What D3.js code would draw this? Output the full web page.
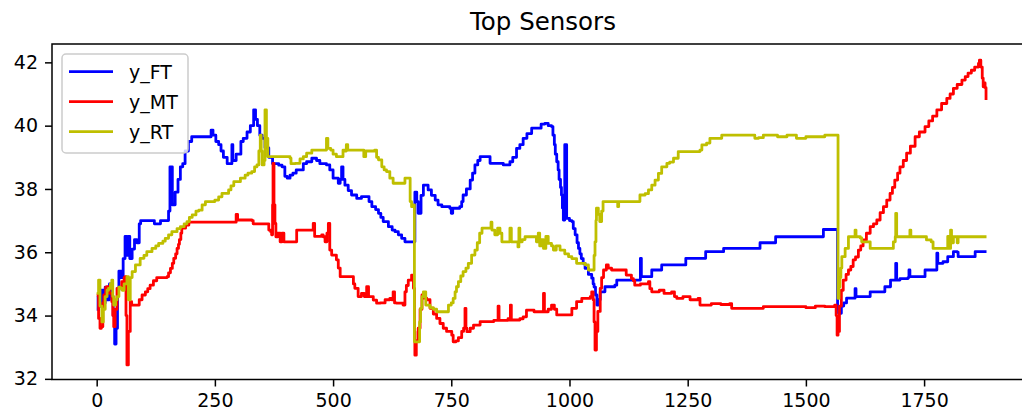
<!DOCTYPE html>
<html>
<head>
<meta charset="utf-8">
<script src="https://cdn.jsdelivr.net/npm/d3@7"></script>
<style>
  body { margin: 0; background: #fff; }
  text { font-family: "DejaVu Sans", sans-serif; fill: #000; }
</style>
</head>
<body>
<div id="chart"></div>
<script>
// sensor readings, [index, value]
var yFT = [[0,34.2],[3,34.6],[6,34.3],[10,34.8],[14,34.4],[18,34.9],[22,34.5],[27,35.0],[31,34.6],[35,34.0],[38,33.1],[41,33.6],[44,34.8],[47,35.4],[52,35.2],[56,35.8],[60,36.5],[63,35.9],[66,36.5],[70,35.8],[75,36.1],[80,36.4],[85,36.3],[90,36.9],[93,37.0],[120,37.0],[122,36.9],[135,37.0],[149,37.0],[152,37.3],[155,38.7],[158,38.7],[160,37.5],[166,37.9],[172,38.3],[177,38.7],[182,38.8],[187,39.2],[194,39.5],[201,39.65],[240,39.65],[242,39.86],[246,39.7],[252,39.5],[258,39.4],[263,39.2],[268,39.0],[276,38.8],[283,38.8],[286,39.4],[288,38.9],[295,39.1],[300,39.1],[305,39.5],[310,39.6],[318,39.8],[325,40.0],[332,40.5],[336,40.2],[340,40.0],[345,39.7],[350,39.6],[356,39.3],[364,39.0],[372,38.8],[385,38.75],[392,38.7],[398,38.4],[403,38.34],[409,38.44],[415,38.5],[422,38.6],[430,38.6],[437,38.8],[444,38.86],[455,38.97],[465,38.9],[472,38.8],[486,38.76],[493,38.6],[500,38.34],[511,38.18],[515,38.3],[518,38.7],[521,38.3],[525,38.12],[532,37.95],[539,37.81],[550,37.7],[560,37.76],[571,37.76],[576,37.6],[582,37.44],[590,37.35],[596,37.23],[601,37.1],[606,36.97],[617,36.81],[625,36.7],[631,36.65],[638,36.55],[645,36.44],[652,36.33],[668,36.33],[673,37.9],[677,37.6],[680,37.23],[686,37.8],[691,38.12],[701,37.97],[708,37.8],[716,37.65],[722,37.5],[730,37.44],[747,37.39],[750,37.23],[753,37.39],[768,37.44],[772,37.6],[775,37.81],[782,38.0],[790,38.28],[795,38.5],[800,38.76],[806,38.9],[811,39.02],[825,39.02],[832,38.81],[845,38.81],[860,38.76],[874,38.86],[880,39.0],[888,39.28],[895,39.4],[902,39.6],[910,39.75],[920,39.92],[935,39.92],[940,40.05],[948,40.07],[955,40.0],[962,39.97],[965,39.7],[968,39.4],[970,39.1],[973,38.86],[976,38.6],[978,38.3],[981,38.05],[983,37.81],[985,37.4],[987,37.02],[990,39.4],[992,39.4],[994,37.07],[1000,37.0],[1005,36.97],[1008,36.75],[1012,36.55],[1016,36.3],[1019,36.12],[1022,35.95],[1025,35.8],[1029,35.65],[1033,35.49],[1040,35.3],[1047,35.18],[1050,35.0],[1052,34.9],[1055,34.65],[1058,34.33],[1061,34.5],[1065,34.75],[1075,34.91],[1096,34.96],[1100,35.12],[1149,35.12],[1150,35.81],[1152,35.23],[1172,35.23],[1174,35.44],[1193,35.44],[1195,35.6],[1244,35.6],[1246,35.81],[1286,35.81],[1288,36.02],[1324,36.02],[1326,36.12],[1400,36.12],[1403,36.3],[1433,36.3],[1436,36.49],[1535,36.49],[1537,36.72],[1564,36.72],[1567,34.2],[1569,34.07],[1575,34.3],[1580,34.4],[1586,34.55],[1603,34.55],[1604,34.85],[1606,34.6],[1634,34.6],[1636,34.75],[1665,34.75],[1667,34.91],[1677,34.91],[1679,35.12],[1689,35.12],[1690,35.65],[1692,35.12],[1699,35.17],[1716,35.2],[1718,35.44],[1720,35.23],[1750,35.23],[1752,35.44],[1775,35.44],[1777,35.97],[1779,35.65],[1790,35.7],[1800,35.86],[1810,35.86],[1812,36.02],[1820,36.0],[1822,35.86],[1855,35.86],[1858,36.02],[1882,36.02]];

var yMT = [[0,34.65],[4,33.91],[7,33.6],[10,33.65],[13,34.4],[15,34.65],[19,34.9],[22,34.91],[27,34.7],[32,34.44],[34,34.0],[36,33.65],[39,34.2],[43,34.86],[48,34.9],[53,35.07],[58,35.2],[60,35.23],[62,34.0],[64,32.44],[67,33.5],[71,34.44],[74,34.33],[86,34.33],[90,34.5],[96,34.65],[103,34.75],[108,34.85],[113,34.96],[120,35.1],[127,35.2],[149,35.23],[152,35.35],[156,35.49],[160,35.65],[163,35.81],[167,35.95],[170,36.12],[173,36.25],[175,36.4],[178,36.6],[180,36.76],[188,36.86],[195,36.95],[292,36.95],[295,37.2],[298,37.02],[328,37.0],[331,36.9],[356,36.9],[364,36.7],[368,36.65],[370,36.55],[372,37.5],[373,38.81],[375,37.5],[377,36.91],[379,36.49],[383,36.6],[388,36.33],[392,36.6],[396,36.33],[419,36.33],[423,36.7],[454,36.7],[458,36.91],[461,36.5],[476,36.55],[479,36.49],[483,36.33],[487,36.6],[490,36.91],[493,36.07],[497,35.91],[507,35.76],[511,35.5],[515,35.23],[539,35.23],[543,35.0],[546,34.86],[553,34.6],[560,34.7],[566,34.6],[571,34.91],[575,34.6],[585,34.49],[592,34.39],[600,34.4],[610,34.5],[620,34.54],[624,34.5],[627,34.75],[630,34.4],[634,34.39],[648,34.33],[652,34.75],[655,34.95],[659,35.12],[666,35.28],[668,35.2],[670,34.86],[672,33.5],[673,32.75],[676,33.2],[680,33.6],[684,34.2],[688,34.65],[693,34.55],[698,34.5],[705,34.23],[712,34.05],[719,33.91],[726,33.75],[733,33.6],[740,33.5],[751,33.38],[754,33.17],[760,33.2],[765,33.3],[768,33.3],[772,33.5],[776,33.6],[779,34.23],[781,33.6],[783,33.49],[790,33.6],[797,33.7],[811,33.81],[832,33.81],[840,33.85],[848,33.85],[849,34.3],[851,33.85],[870,33.9],[873,33.86],[875,34.33],[877,33.86],[895,33.9],[902,33.96],[909,34.17],[925,34.12],[944,34.12],[945,34.7],[947,34.12],[955,34.2],[962,34.33],[968,34.2],[973,34.02],[997,34.02],[1005,34.23],[1015,34.44],[1026,34.54],[1044,34.6],[1047,34.75],[1050,34.5],[1052,33.8],[1054,32.91],[1057,33.5],[1060,34.13],[1065,34.86],[1068,35.2],[1072,35.44],[1078,35.6],[1082,35.5],[1089,35.44],[1117,35.44],[1120,35.28],[1131,35.17],[1135,35.1],[1138,34.96],[1150,35.0],[1160,35.0],[1167,35.07],[1170,34.85],[1174,34.75],[1190,34.8],[1200,34.7],[1216,34.75],[1222,34.6],[1227,34.54],[1240,34.6],[1255,34.5],[1272,34.54],[1276,34.33],[1300,34.38],[1320,34.35],[1339,34.38],[1343,34.23],[1400,34.23],[1410,34.28],[1480,34.28],[1500,34.25],[1520,34.3],[1540,34.28],[1561,34.33],[1564,34.0],[1566,33.38],[1568,33.5],[1571,34.3],[1575,34.8],[1579,35.12],[1585,35.3],[1590,35.44],[1595,35.55],[1600,35.76],[1605,35.85],[1611,36.07],[1616,36.2],[1621,36.39],[1628,36.6],[1636,36.81],[1643,36.9],[1650,37.02],[1657,37.25],[1664,37.44],[1671,37.65],[1678,37.86],[1683,38.05],[1688,38.28],[1694,38.5],[1699,38.7],[1706,38.9],[1713,39.13],[1721,39.35],[1731,39.65],[1740,39.8],[1752,39.97],[1760,40.15],[1768,40.3],[1777,40.5],[1787,40.7],[1798,40.86],[1805,41.0],[1812,41.18],[1820,41.3],[1830,41.44],[1837,41.55],[1843,41.66],[1850,41.75],[1857,41.85],[1865,41.97],[1867,42.07],[1870,41.85],[1873,41.5],[1875,41.23],[1877,41.35],[1879,41.2],[1881,40.81]];

var yRT = [[0,34.7],[4,35.12],[7,34.3],[11,33.8],[14,34.2],[18,34.6],[22,34.8],[25,34.86],[29,35.0],[32,35.12],[34,34.6],[36,34.33],[40,34.5],[43,34.6],[47,34.9],[50,34.86],[54,34.8],[58,35.0],[64,35.23],[67,34.5],[71,35.2],[75,35.39],[82,35.6],[92,35.81],[100,35.9],[106,36.02],[117,36.12],[125,36.2],[131,36.28],[140,36.35],[145,36.44],[152,36.55],[159,36.65],[170,36.75],[177,36.81],[185,36.9],[191,36.97],[196,37.1],[202,37.18],[210,37.3],[216,37.33],[223,37.5],[230,37.6],[250,37.65],[258,37.75],[265,37.86],[279,37.97],[284,38.1],[290,38.23],[304,38.34],[314,38.44],[320,38.5],[328,38.55],[334,38.7],[339,38.76],[343,39.2],[346,39.7],[348,39.2],[350,38.76],[354,38.9],[356,40.5],[359,39.6],[362,39.02],[409,38.97],[411,38.8],[420,38.81],[430,38.95],[437,39.02],[444,39.13],[455,39.23],[483,39.23],[486,39.6],[489,39.28],[495,39.23],[500,39.1],[507,39.02],[518,39.02],[521,39.23],[526,39.2],[528,39.4],[531,39.23],[562,39.23],[565,39.02],[569,39.2],[588,39.23],[592,39.0],[596,38.92],[603,38.7],[608,38.6],[613,38.55],[620,38.34],[627,38.18],[648,38.18],[652,38.34],[660,38.34],[663,37.6],[666,37.44],[670,37.5],[672,33.17],[680,33.17],[683,33.8],[685,34.23],[688,34.6],[691,34.75],[696,34.33],[705,34.25],[712,34.2],[719,34.12],[740,34.12],[744,34.33],[750,34.4],[754,34.54],[758,34.75],[761,34.91],[765,35.07],[770,35.25],[775,35.39],[781,35.5],[786,35.65],[793,35.91],[800,36.07],[805,36.3],[810,36.6],[815,36.76],[832,36.76],[834,36.95],[836,36.7],[842,36.55],[848,36.76],[853,36.6],[857,36.33],[872,36.33],[874,36.76],[877,36.33],[889,36.33],[891,36.17],[893,36.76],[895,36.33],[900,36.4],[906,36.49],[925,36.49],[930,36.33],[934,36.6],[937,36.2],[940,36.4],[945,36.12],[950,36.5],[955,36.28],[962,36.2],[966,36.07],[972,36.2],[980,36.07],[990,35.95],[998,35.86],[1005,35.8],[1015,35.65],[1033,35.6],[1040,35.44],[1050,35.44],[1052,35.9],[1054,36.33],[1056,37.0],[1057,37.39],[1061,37.2],[1064,36.97],[1068,37.3],[1071,37.6],[1100,37.6],[1102,37.44],[1104,37.6],[1145,37.6],[1149,37.81],[1160,37.85],[1167,37.97],[1174,38.12],[1181,38.28],[1188,38.49],[1195,38.7],[1206,38.81],[1212,38.85],[1220,38.97],[1230,39.18],[1276,39.23],[1280,39.39],[1290,39.45],[1297,39.6],[1322,39.7],[1385,39.7],[1392,39.6],[1400,39.62],[1410,39.7],[1440,39.65],[1460,39.7],[1480,39.6],[1500,39.65],[1537,39.65],[1540,39.7],[1567,39.7],[1568,34.54],[1570,34.9],[1572,35.2],[1574,35.5],[1576,35.86],[1583,36.12],[1590,36.49],[1602,36.49],[1604,36.7],[1606,36.49],[1615,36.45],[1618,36.33],[1634,36.33],[1636,36.12],[1681,36.12],[1685,36.33],[1689,36.49],[1690,37.23],[1692,36.49],[1718,36.49],[1720,36.7],[1722,36.49],[1752,36.49],[1755,36.39],[1765,36.33],[1769,36.12],[1798,36.12],[1800,36.5],[1802,36.12],[1805,36.12],[1806,36.7],[1808,36.3],[1812,36.49],[1818,36.49],[1820,36.3],[1822,36.49],[1882,36.49]];

var seriesNames = ["y_FT", "y_MT", "y_RT"];
var seriesColors = ["#0000ff", "#ff0000", "#bfbf00"];
var xTicks = [0, 250, 500, 750, 1000, 1250, 1500, 1750];
var yTicks = [32, 34, 36, 38, 40, 42];

var svgWidth = 1022;
var svgHeight = 412;
var margin = { top: 44, right: -8, bottom: 32.5, left: 52 };
var width = svgWidth - margin.left - margin.right;
var height = svgHeight - margin.top - margin.bottom;

var svg = d3.select("#chart")
  .append("svg")
  .attr("width", svgWidth)
  .attr("height", svgHeight);

var chartGroup = svg.append("g")
  .attr("transform", `translate(${margin.left}, ${margin.top})`);

var xScale = d3.scaleLinear().domain([-94.5, 1974]).range([0, width]);
var yScale = d3.scaleLinear().domain([31.98, 42.58]).range([height, 0]);

svg.append("defs").append("clipPath").attr("id", "clip")
  .append("rect").attr("width", width).attr("height", height);

// lines (the sensor values change in steps)
var line = d3.line()
  .x(d => xScale(d[0]))
  .y(d => yScale(d[1]))
  .curve(d3.curveStepAfter);
var allSeries = [yFT, yMT, yRT];
chartGroup.append("g").attr("clip-path", "url(#clip)")
  .selectAll("path")
  .data(allSeries)
  .enter()
  .append("path")
  .attr("d", line)
  .attr("fill", "none")
  .attr("stroke", (d, i) => seriesColors[i])
  .attr("stroke-width", 2.8)
  .attr("stroke-linejoin", "round");

// axes
var bottomAxis = d3.axisBottom(xScale).tickValues(xTicks).tickFormat(d3.format("d"))
  .tickSize(7).tickPadding(7).tickSizeOuter(0);
var leftAxis = d3.axisLeft(yScale).tickValues(yTicks).tickFormat(d3.format("d"))
  .tickSize(7).tickPadding(7).tickSizeOuter(0);

var gx = chartGroup.append("g")
  .attr("transform", `translate(0, ${height})`)
  .call(bottomAxis);
var gy = chartGroup.append("g").call(leftAxis);

[gx, gy].forEach(function(g) {
  g.select(".domain").remove();
  g.selectAll("line").attr("stroke", "#000").attr("stroke-width", 1.5);
  g.selectAll("text").style("font-size", "19px").attr("font-family", "DejaVu Sans");
});

// frame
chartGroup.append("rect")
  .attr("width", width)
  .attr("height", height)
  .attr("fill", "none")
  .attr("stroke", "#000")
  .attr("stroke-width", 1.5);

// title
svg.append("text")
  .attr("x", 543)
  .attr("y", 30)
  .attr("text-anchor", "middle")
  .style("font-size", "24.5px")
  .text("Top Sensors");

// legend
var legend = svg.append("g").attr("transform", "translate(62, 54)");
legend.append("rect")
  .attr("width", 126)
  .attr("height", 99)
  .attr("rx", 4)
  .attr("fill", "#fff")
  .attr("fill-opacity", 0.8)
  .attr("stroke", "#cccccc")
  .attr("stroke-width", 1.5);

var items = legend.selectAll(".item")
  .data(seriesNames)
  .enter()
  .append("g")
  .attr("class", "item")
  .attr("transform", (d, i) => `translate(0, ${17.7 + i * 30})`);

items.append("line")
  .attr("x1", 7).attr("x2", 51)
  .attr("stroke", (d, i) => seriesColors[i])
  .attr("stroke-width", 2.8);

items.append("text")
  .attr("x", 67)
  .attr("y", 7)
  .style("font-size", "19px")
  .text(d => d);
</script>
</body>
</html>
